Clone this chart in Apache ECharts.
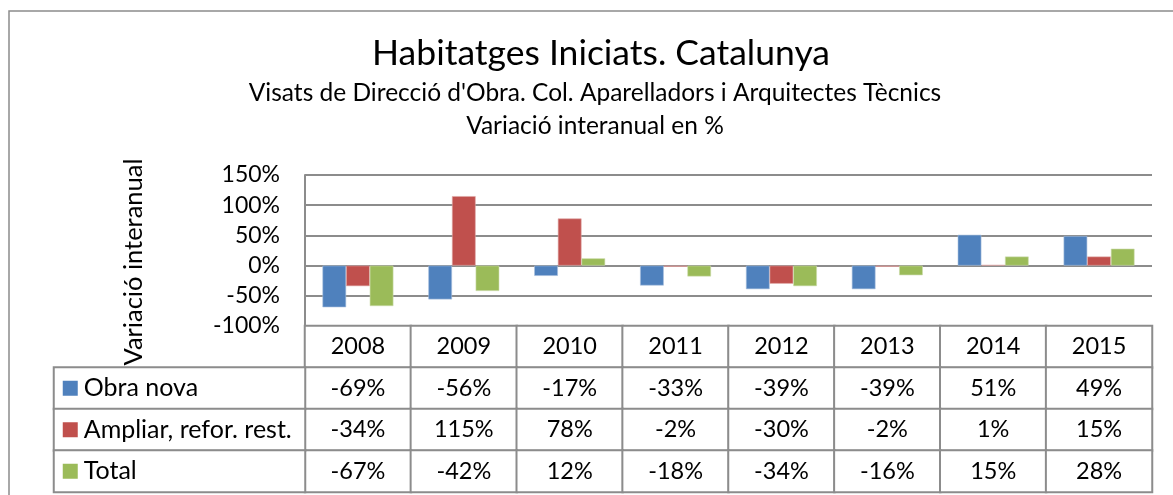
<!DOCTYPE html>
<html>
<head>
    <meta charset="UTF-8">
    <title>Habitatges Iniciats. Catalunya</title>
    <script src="https://cdn.jsdelivr.net/npm/echarts@6/dist/echarts.min.js"></script>
    <style>
        html, body { margin: 0; padding: 0; background: #fff; }
        #chart { width: 1173px; height: 495px; }
    </style>
</head>
<body>
<div id="chart"></div>
<script>
    // dades (variació interanual en %)
    var years = ['2008', '2009', '2010', '2011', '2012', '2013', '2014', '2015'];
    var seriesNames = ['Obra nova', 'Ampliar, refor. rest.', 'Total'];
    var obraNova = [-69, -56, -17, -33, -39, -39, 51, 49];
    var ampliar = [-34, 115, 78, -2, -30, -2, 1, 15];
    var total = [-67, -42, 12, -18, -34, -16, 15, 28];
    var yTicks = { min: -100, max: 150, interval: 50 };

    var colors = ['#4F81BD', '#C0504D', '#9BBB59'];
    var lineColor = '#8c8c8c';
    var font = 'Lato';

    // posicions de la taula i de l'àrea del gràfic
    var plotLeft = 305, plotRight = 1152, plotTop = 175, plotBottom = 326;
    var tableBottom = 492, legendLeft = 54;
    var rowH = (tableBottom - plotBottom) / 4;

    var rows = [obraNova, ampliar, total];

    // cel·les de la taula de dades (fila 0 = anys)
    var tableCells = [];
    years.forEach(function (y, i) {
        tableCells.push({ value: [i, 0, 0], text: y });
    });
    rows.forEach(function (r, ri) {
        r.forEach(function (v, i) {
            tableCells.push({ value: [i, ri + 1, 0], text: v + '%' });
        });
    });

    // cel·les de la llegenda (columna esquerra)
    var legendCells = seriesNames.map(function (n, i) {
        return { value: [0, i, 0], text: '{k' + i + '|}{t|' + n + '}' };
    });

    var rich = { t: { fontFamily: font, fontSize: 25, color: '#000', padding: [0, 0, 0, 6] } };
    colors.forEach(function (c, i) {
        rich['k' + i] = { width: 15, height: 15, backgroundColor: c };
    });

    var chart = echarts.init(document.getElementById('chart'));
    chart.setOption({
        animation: false,
        backgroundColor: '#fff',
        title: [
            {
                text: 'Habitatges Iniciats. Catalunya',
                left: 601, top: 54, padding: 0,
                textAlign: 'center', textVerticalAlign: 'middle',
                textStyle: { fontFamily: font, fontSize: 35.5, fontWeight: 'normal', color: '#000' }
            },
            {
                text: "Visats de Direcció d'Obra. Col. Aparelladors i Arquitectes Tècnics",
                left: 595, top: 93, padding: 0,
                textAlign: 'center', textVerticalAlign: 'middle',
                textStyle: { fontFamily: font, fontSize: 24.5, fontWeight: 'normal', color: '#000' }
            },
            {
                text: 'Variació interanual en %',
                left: 595, top: 126, padding: 0,
                textAlign: 'center', textVerticalAlign: 'middle',
                textStyle: { fontFamily: font, fontSize: 24.5, fontWeight: 'normal', color: '#000' }
            }
        ],
        visualMap: {
            show: false,
            seriesIndex: [3, 4],
            min: 0, max: 1,
            inRange: { color: ['#ffffff', '#ffffff'] }
        },
        grid: [
            { left: plotLeft, top: plotTop, width: plotRight - plotLeft, height: plotBottom - plotTop },
            { left: plotLeft, top: plotBottom, width: plotRight - plotLeft, height: tableBottom - plotBottom },
            { left: legendLeft, top: plotBottom + rowH, width: plotLeft - legendLeft, height: rowH * 3 }
        ],
        xAxis: [
            {
                gridIndex: 0, type: 'category', data: years,
                axisLine: { show: false }, axisTick: { show: false }, axisLabel: { show: false }
            },
            {
                gridIndex: 1, type: 'category', data: years, show: false
            },
            {
                gridIndex: 2, type: 'category', data: ['llegenda'], show: false
            }
        ],
        yAxis: [
            {
                gridIndex: 0, type: 'value',
                min: yTicks.min, max: yTicks.max, interval: yTicks.interval,
                axisLine: { show: true, lineStyle: { color: lineColor, width: 2 } },
                axisTick: { show: false },
                axisLabel: {
                    formatter: '{value}%', margin: 25,
                    fontFamily: font, fontSize: 23, color: '#000'
                },
                splitLine: { show: true, lineStyle: { color: lineColor, width: 2 } }
            },
            {
                gridIndex: 1, type: 'category', data: ['any', 'a', 'b', 'c'], inverse: true, show: false
            },
            {
                gridIndex: 2, type: 'category', data: ['a', 'b', 'c'], inverse: true, show: false
            }
        ],
        series: [
            {
                name: seriesNames[0], type: 'bar', data: obraNova,
                barGap: 0, barCategoryGap: '33%',
                itemStyle: { color: colors[0], borderColor: '#a7c0de', borderWidth: 0.6 }
            },
            {
                name: seriesNames[1], type: 'bar', data: ampliar,
                barGap: 0, barCategoryGap: '33%',
                itemStyle: { color: colors[1], borderColor: '#dfa7a6', borderWidth: 0.6 }
            },
            {
                name: seriesNames[2], type: 'bar', data: total,
                barGap: 0, barCategoryGap: '33%',
                itemStyle: { color: colors[2], borderColor: '#cddcac', borderWidth: 0.6 }
            },
            {
                type: 'heatmap', xAxisIndex: 1, yAxisIndex: 1,
                data: tableCells,
                itemStyle: { borderColor: lineColor, borderWidth: 2 },
                label: {
                    show: true,
                    formatter: function (p) { return p.data.text; },
                    fontFamily: font, fontSize: 23.5, color: '#000'
                },
                emphasis: { disabled: true }
            },
            {
                type: 'heatmap', xAxisIndex: 2, yAxisIndex: 2,
                data: legendCells,
                itemStyle: { borderColor: lineColor, borderWidth: 2 },
                label: {
                    show: true, position: 'insideLeft', distance: 10,
                    formatter: function (p) { return p.data.text; },
                    rich: rich
                },
                emphasis: { disabled: true }
            }
        ],
        graphic: [
            {
                type: 'rect', silent: true, z: -1,
                shape: { x: 9, y: 11, width: 1200, height: 600 },
                style: { fill: 'none', stroke: lineColor, lineWidth: 1.5 }
            },
            {
                type: 'text', x: 134, y: 262, rotation: Math.PI / 2,
                style: {
                    text: 'Variació interanual', fontFamily: font, fontSize: 25.5,
                    fill: '#000', textAlign: 'center', textVerticalAlign: 'middle'
                }
            }
        ]
    });
</script>
</body>
</html>
